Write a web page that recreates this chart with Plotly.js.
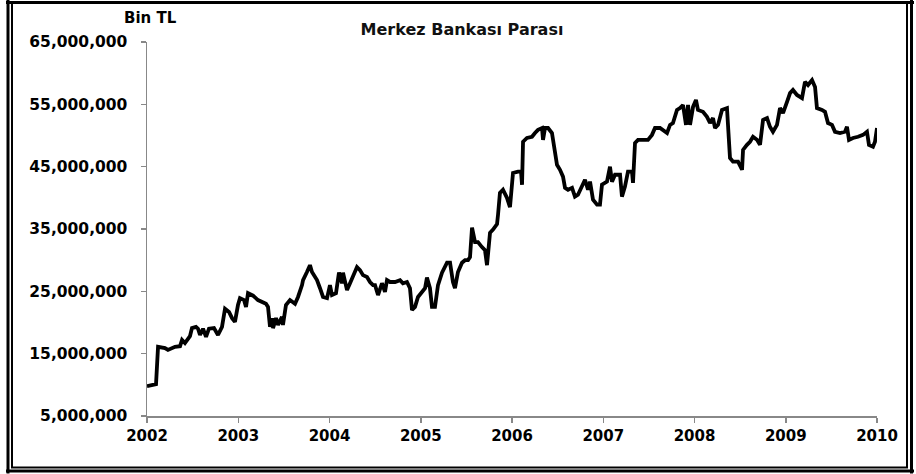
<!DOCTYPE html>
<html>
<head>
<meta charset="utf-8">
<script src="https://cdn.plot.ly/plotly-3.0.1.min.js"></script>
<style>
  html, body { margin: 0; padding: 0; background: #ffffff; }
  #chart { width: 916px; height: 474px; }
</style>
</head>
<body>
<div id="chart"></div>
<script>
// Weekly central bank money (Bin TL)
const years = [
  2002.000, 2002.099, 2002.121, 2002.197, 2002.230, 2002.307, 2002.362, 2002.384, 2002.416, 2002.471,
  2002.493, 2002.537, 2002.559, 2002.581, 2002.614, 2002.647, 2002.679, 2002.734, 2002.778, 2002.822,
  2002.855, 2002.899, 2002.932, 2002.964, 2002.997, 2003.019, 2003.063, 2003.085, 2003.107, 2003.162,
  2003.216, 2003.260, 2003.304, 2003.326, 2003.348, 2003.370, 2003.381, 2003.414, 2003.436, 2003.479,
  2003.490, 2003.523, 2003.567, 2003.622, 2003.655, 2003.699, 2003.710, 2003.753, 2003.786, 2003.808,
  2003.863, 2003.896, 2003.929, 2003.973, 2004.005, 2004.027, 2004.071, 2004.104, 2004.137, 2004.148,
  2004.192, 2004.225, 2004.258, 2004.301, 2004.334, 2004.367, 2004.411, 2004.444, 2004.477, 2004.499,
  2004.532, 2004.575, 2004.608, 2004.630, 2004.663, 2004.718, 2004.773, 2004.805, 2004.849, 2004.882,
  2004.904, 2004.937, 2004.970, 2005.014, 2005.047, 2005.068, 2005.101, 2005.123, 2005.156, 2005.189,
  2005.233, 2005.288, 2005.321, 2005.353, 2005.375, 2005.408, 2005.452, 2005.485, 2005.518, 2005.540,
  2005.562, 2005.595, 2005.627, 2005.671, 2005.704, 2005.726, 2005.759, 2005.792, 2005.836, 2005.847,
  2005.868, 2005.901, 2005.945, 2005.978, 2006.011, 2006.066, 2006.099, 2006.110, 2006.121, 2006.164,
  2006.219, 2006.252, 2006.285, 2006.329, 2006.340, 2006.362, 2006.395, 2006.438, 2006.449, 2006.493,
  2006.526, 2006.559, 2006.581, 2006.614, 2006.658, 2006.690, 2006.723, 2006.767, 2006.800, 2006.833,
  2006.855, 2006.888, 2006.932, 2006.964, 2006.986, 2007.041, 2007.074, 2007.096, 2007.129, 2007.184,
  2007.205, 2007.238, 2007.271, 2007.315, 2007.326, 2007.348, 2007.381, 2007.436, 2007.490, 2007.534,
  2007.567, 2007.622, 2007.655, 2007.699, 2007.732, 2007.764, 2007.808, 2007.841, 2007.874, 2007.907,
  2007.929, 2007.951, 2007.984, 2008.016, 2008.038, 2008.093, 2008.137, 2008.170, 2008.203, 2008.225,
  2008.258, 2008.301, 2008.356, 2008.367, 2008.389, 2008.422, 2008.477, 2008.521, 2008.532, 2008.575,
  2008.608, 2008.641, 2008.685, 2008.718, 2008.751, 2008.795, 2008.827, 2008.860, 2008.904, 2008.937,
  2008.970, 2009.014, 2009.047, 2009.079, 2009.123, 2009.178, 2009.211, 2009.244, 2009.288, 2009.321,
  2009.342, 2009.397, 2009.430, 2009.463, 2009.507, 2009.540, 2009.595, 2009.649, 2009.671, 2009.693,
  2009.737, 2009.792, 2009.847, 2009.890, 2009.912, 2009.956, 2009.978, 2010.000
];

const values = [
  9800000, 10100000, 16100000, 15900000, 15600000, 16100000, 16200000, 17200000, 16700000, 17800000,
  19100000, 19300000, 19000000, 18000000, 19000000, 17700000, 19000000, 19100000, 18000000, 19300000,
  22200000, 21700000, 20700000, 20100000, 22800000, 23900000, 23600000, 22500000, 24700000, 24300000,
  23600000, 23300000, 23000000, 22500000, 19300000, 20700000, 19100000, 20700000, 19600000, 20900000,
  19600000, 22800000, 23600000, 23000000, 24100000, 26000000, 26800000, 28100000, 29200000, 28100000,
  26800000, 25500000, 24100000, 23900000, 26000000, 24400000, 24700000, 28000000, 26300000, 28000000,
  25200000, 26300000, 27300000, 28900000, 28400000, 27600000, 27300000, 26500000, 26000000, 26000000,
  24400000, 26300000, 24900000, 26800000, 26500000, 26500000, 26800000, 26300000, 26500000, 25500000,
  22000000, 22500000, 24100000, 24900000, 25500000, 27200000, 25500000, 22500000, 22500000, 26000000,
  28000000, 29600000, 29600000, 26500000, 25500000, 28100000, 29600000, 30000000, 30000000, 30500000,
  35200000, 32900000, 32900000, 32100000, 31600000, 29200000, 34400000, 34900000, 35800000, 37300000,
  40800000, 41300000, 40000000, 38500000, 44000000, 44200000, 44200000, 42100000, 49000000, 49600000,
  49800000, 50400000, 50900000, 51200000, 49300000, 51200000, 51200000, 50400000, 49300000, 45300000,
  44500000, 43400000, 41600000, 41300000, 41600000, 40200000, 40500000, 42100000, 42900000, 41300000,
  42600000, 39700000, 38900000, 38900000, 42100000, 42600000, 45000000, 42600000, 43700000, 43700000,
  40200000, 41800000, 44200000, 44200000, 42400000, 48800000, 49300000, 49300000, 49300000, 50100000,
  51200000, 51200000, 50900000, 50400000, 51700000, 52000000, 54100000, 54400000, 54900000, 51700000,
  54900000, 51700000, 54600000, 55700000, 54100000, 53800000, 53000000, 52000000, 52800000, 51200000,
  51700000, 54100000, 54400000, 52000000, 46400000, 45800000, 45800000, 44500000, 47700000, 48500000,
  49000000, 49800000, 49300000, 48500000, 52500000, 52800000, 51400000, 50600000, 51700000, 54400000,
  53600000, 55400000, 56800000, 57300000, 56500000, 56000000, 58600000, 58100000, 58900000, 57800000,
  54400000, 54100000, 53800000, 52000000, 51700000, 50600000, 50400000, 50600000, 51400000, 49300000,
  49600000, 49800000, 50100000, 50600000, 48500000, 48200000, 49000000, 51200000
];

const xTickVals = [2002, 2003, 2004, 2005, 2006, 2007, 2008, 2009, 2010];
const xTickText = ["2002", "2003", "2004", "2005", "2006", "2007", "2008", "2009", "2010"];
const yTickVals = [5000000, 15000000, 25000000, 35000000, 45000000, 55000000, 65000000];
const yTickText = ["5,000,000", "15,000,000", "25,000,000", "35,000,000", "45,000,000", "55,000,000", "65,000,000"];

const chartTitle = "Merkez Bankası Parası";
const unitLabel = "Bin TL";

// ---- layout geometry (pixels) ----
const W = 916, H = 474;
const M = { l: 147, r: 39, t: 42, b: 57.5 };
const PW = W - M.l - M.r, PH = H - M.t - M.b;
const xp = px => (px - M.l) / PW;
const yp = py => (H - M.b - py) / PH;

const FONT = "DejaVu Sans, Verdana, Arial, sans-serif";

const trace = {
  x: years,
  y: values,
  type: "scatter",
  mode: "lines",
  line: { color: "#000000", width: 3.8 },
  hoverinfo: "skip",
  showlegend: false
};

const frame = [
  // inner thin frame
  { type: "rect", xref: "paper", yref: "paper", x0: xp(12), x1: xp(907), y0: yp(468), y1: yp(3),
    line: { color: "#000", width: 2 } },
  // outer thick frame lines
  { type: "line", xref: "paper", yref: "paper", x0: xp(8), x1: xp(8), y0: yp(474), y1: yp(0),
    line: { color: "#000", width: 3 } },
  { type: "line", xref: "paper", yref: "paper", x0: xp(911.5), x1: xp(911.5), y0: yp(474), y1: yp(0),
    line: { color: "#000", width: 3 } },
  { type: "line", xref: "paper", yref: "paper", x0: xp(6), x1: xp(914), y0: yp(471.5), y1: yp(471.5),
    line: { color: "#000", width: 3 } },
  { type: "line", xref: "paper", yref: "paper", x0: xp(6), x1: xp(914), y0: yp(2.5), y1: yp(2.5),
    line: { color: "#000", width: 3 } }
];

const layout = {
  width: W,
  height: H,
  margin: M,
  paper_bgcolor: "#ffffff",
  plot_bgcolor: "#ffffff",
  font: { family: FONT, color: "#000" },
  title: {
    text: chartTitle,
    xref: "container", x: 462 / W, xanchor: "center",
    yref: "container", y: 1 - 29 / H, yanchor: "middle",
    font: { family: FONT, size: 16, weight: 700, color: "#111" }
  },
  xaxis: {
    range: [2002, 2010],
    tickvals: xTickVals,
    ticktext: xTickText,
    ticks: "outside",
    ticklen: 5,
    tickwidth: 1.5,
    tickcolor: "#888",
    showline: true,
    linecolor: "#888",
    linewidth: 1.5,
    showgrid: false,
    zeroline: false,
    tickfont: { family: FONT, size: 15, weight: 700, color: "#000" }
  },
  yaxis: {
    range: [5000000, 65000000],
    tickvals: yTickVals,
    ticktext: yTickText,
    ticks: "outside",
    ticklen: 5,
    tickwidth: 1.5,
    tickcolor: "#888",
    showline: true,
    linecolor: "#888",
    linewidth: 1.5,
    showgrid: false,
    zeroline: false,
    ticklabelstandoff: 10,
    tickfont: { family: FONT, size: 15.5, weight: 700, color: "#000" }
  },
  annotations: [
    { text: unitLabel, xref: "paper", yref: "paper", x: xp(150), y: yp(18),
      xanchor: "center", yanchor: "middle", showarrow: false,
      font: { family: FONT, size: 15, weight: 700, color: "#000" } }
  ],
  shapes: frame
};

Plotly.newPlot("chart", [trace], layout, { displayModeBar: false, staticPlot: true });
</script>
</body>
</html>
